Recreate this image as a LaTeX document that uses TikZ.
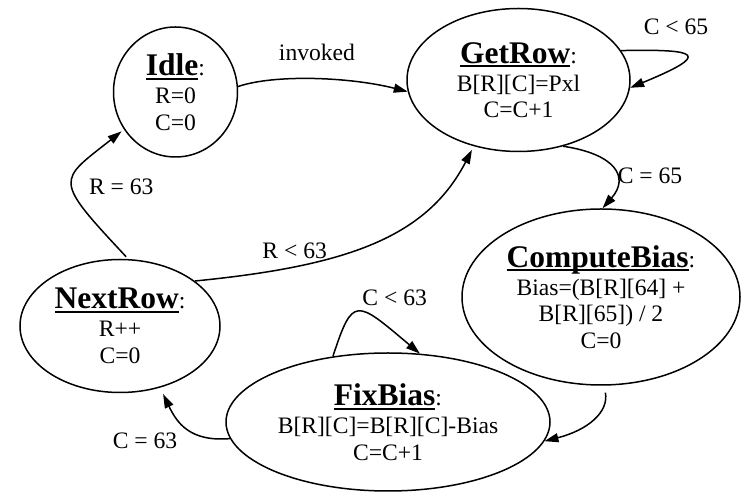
\documentclass[tikz,border=0pt]{standalone}
\usepackage{fontspec}
\setmainfont{Liberation Serif}
\usetikzlibrary{arrows.meta,shapes.geometric}

% bold, underlined state name followed by a plain colon
\newcommand{\statehead}[1]{{\fontsize{31.5}{26.5}\selectfont
  \setbox0\hbox{\bfseries #1}\rlap{\rule[-4pt]{\wd0}{2pt}}\box0}:}

\begin{document}
\begin{tikzpicture}[x=1pt,y=1pt,
  state/.style={ellipse, draw, line width=1.5pt, inner sep=0pt, align=center,
    font=\fontsize{23.6}{26.5}\selectfont},
  arr/.style={-{Triangle[length=14pt,width=9pt]}, line width=1.5pt},
  lbl/.style={font=\fontsize{23.6}{26.5}\selectfont, anchor=base, inner sep=0pt}]
\useasboundingbox (0,0) rectangle (744,492);

% states
\node[state, minimum width=124pt, minimum height=130pt] (idle) at (175.5,400)
  {\statehead{Idle}\\[1.5pt] R=0\\ C=0};
\node[state, minimum width=223pt, minimum height=143pt] (getrow) at (518.5,412)
  {\statehead{GetRow}\\[1.5pt] B[R][C]=Pxl\\ C=C+1};
\node[state, minimum width=278pt, minimum height=176pt] (computebias) at (601,195)
  {\statehead{ComputeBias}\\[1.5pt] Bias=(B[R][64] +\\ B[R][65]) / 2\\ C=0};
\node[state, minimum width=200pt, minimum height=133pt] (nextrow) at (120,166)
  {\statehead{NextRow}\\[1.5pt] R++\\ C=0};
\node[state, minimum width=324pt, minimum height=138pt] (fixbias) at (388,70)
  {\statehead{FixBias}\\[1.5pt] B[R][C]=B[R][C]-Bias\\ C=C+1};

% transitions
\draw[arr] (idle.5) .. controls (275,418) and (350,415) .. (getrow.186);
\draw[arr] (getrow.16) .. controls (700,443) and (712,438) .. (getrow.356);
\draw[arr] (getrow.304) .. controls (615,338) and (630,315) .. (computebias.89);
\draw[arr, shorten <=7pt] (computebias.272) .. controls (609,80) and (588,62) .. (fixbias.353);
\draw[arr] (fixbias.130) .. controls (353,197) and (356,192) .. (fixbias.65);
\draw[arr, shorten >=7pt] (fixbias.186) .. controls (190,50) and (177,69) .. (nextrow.303);
\draw[arr, shorten <=3pt, shorten >=3pt] (nextrow.83) .. controls (52.5,314) and (58,310.4) .. (idle.216);
\draw[arr, shorten >=4pt] (nextrow.31) .. controls (347,226) and (426.5,254.5) .. (getrow.236);

% transition labels
\node[lbl] (invoked) at (317,431) {invoked};
\node[lbl] (cless65) at (676,457) {C < 65};
\node[lbl] (ceq65) at (650,308.7) {C = 65};
\node[lbl] (cless63) at (394.7,186.3) {C < 63};
\node[lbl] (ceq63) at (145,43) {C = 63};
\node[lbl] (req63) at (121.3,297) {R = 63};
\node[lbl] (rless63) at (294.7,233.7) {R < 63};
\end{tikzpicture}
\end{document}
